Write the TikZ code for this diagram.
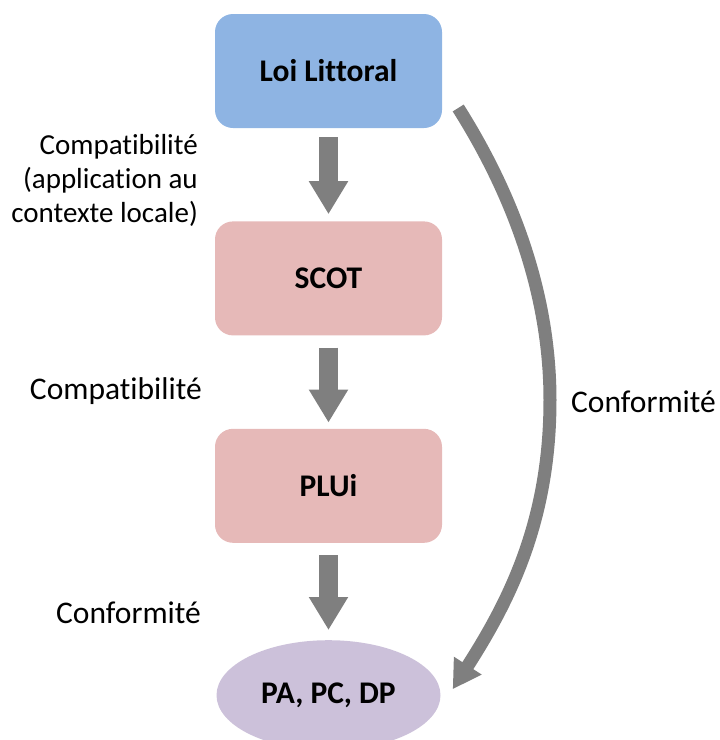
\documentclass[tikz,border=0pt]{standalone}
\usepackage{fontspec}
\setmainfont{Carlito}[Ligatures={TeX,NoCommon}]
\usetikzlibrary{positioning}
\usetikzlibrary{shapes.geometric}
\usetikzlibrary{arrows.meta}
\definecolor{lawblue}{HTML}{8EB4E3}
\definecolor{planpink}{HTML}{E6B9B8}
\definecolor{permitpurple}{HTML}{CCC1DA}
\definecolor{linkgray}{HTML}{7F7F7F}
\tikzset {
  level node/.style = {
    draw = none,
    inner sep = 0,
    font = \fontsize{31.5}{36}\selectfont\bfseries
  },
  % rounded boxes of the hierarchy
  law/.style = {
    level node,
    rectangle,
    rounded corners = 18pt,
    minimum width = 227pt,
    minimum height = 114pt,
    fill = lawblue
  },
  plan/.style = {
    law,
    fill = planpink
  },
  % bottom level
  permit/.style = {
    level node,
    ellipse,
    minimum width = 224pt,
    minimum height = 110pt,
    fill = permitpurple
  },
  % fat block arrows
  link/.style = {
    draw = linkgray,
    line width = 19pt,
    -{Triangle[width=37pt,length=33pt]}
  },
  side link/.style = {
    draw = linkgray,
    line width = 13pt,
    -{Triangle[width=31pt,length=28pt]}
  },
  relation/.style = {
    inner sep = 0,
    align = right,
    font = \fontsize{31.5}{35}\selectfont
  },
  node distance = 93pt
}
\begin{document}
\begin{tikzpicture}[x=1pt,y=-1pt]
    \useasboundingbox (0,0) rectangle (720,740);

    \node[law] (loi) at (328.5,71) {Loi Littoral};
    \node[plan] (scot) [below=of loi] {SCOT};
    \node[plan] (plui) [below=of scot] {PLUi};
    \node[permit] (pa) [below=97pt of plui] {PA, PC, DP};

    \draw[link] ([yshift=-9pt]loi.south) -- ([yshift=7pt]scot.north);
    \draw[link] ([yshift=-12pt]scot.south) -- ([yshift=6pt]plui.north);
    \draw[link] ([yshift=-12pt]plui.south) -- ([yshift=10pt]pa.north);

    \coordinate (side-start) at ([xshift=16pt,yshift=-37pt]loi.east);
    \coordinate (side-end) at ([xshift=12pt,yshift=6pt]pa.east);
    \draw[side link] (side-start)
    .. controls (510,190) and (550,290) .. (550,400)
    .. controls (550,520) and (510,600) .. (side-end);

    \node[relation, font=\fontsize{29}{34}\selectfont, anchor=east] (rel-scot) at (198,180)
      {Compatibilité\\(application au\\contexte locale)};
    \node[relation, anchor=east] (rel-plui) at (202,391) {Compatibilité};
    \node[relation, anchor=east] (rel-pa) at (201,613) {Conformité};
    \node[relation, anchor=west] (rel-side) at (571,402) {Conformité};
\end{tikzpicture}
\end{document}
